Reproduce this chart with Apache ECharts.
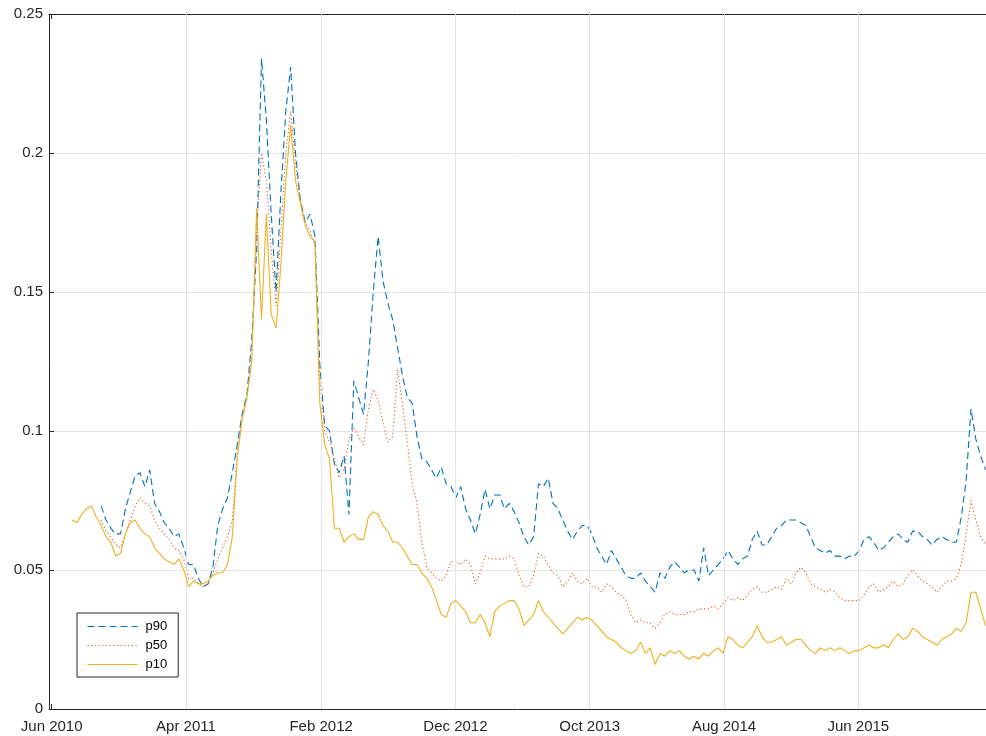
<!DOCTYPE html>
<html>
<head>
<meta charset="utf-8">
<script src="https://cdn.jsdelivr.net/npm/echarts@6/dist/echarts.min.js"></script>
<style>
html,body{margin:0;padding:0;background:#fff;}
#chart{width:986px;height:736px;}
</style>
</head>
<body>
<div id="chart"></div>
<script>
// ---- data (sampled every 11 days starting 2010-07-17) ----
const START_DATE = '2010-07-17';
const STEP_DAYS = 11;

const p90 = [
null,null,null,null,null,null,0.073,0.068,0.065,0.063,
0.063,0.072,0.078,0.084,0.085,0.080,0.086,0.074,0.071,0.067,
0.065,0.062,0.063,0.058,0.052,0.052,0.047,0.044,0.045,0.051,
0.066,0.072,0.076,0.085,0.095,0.106,0.113,0.133,0.165,0.234,
0.212,0.178,0.150,0.186,0.215,0.231,0.200,0.183,0.175,0.178,
0.170,0.124,0.102,0.100,0.088,0.085,0.091,0.070,0.118,0.112,
0.106,0.125,0.150,0.170,0.154,0.146,0.140,0.130,0.120,0.112,
0.110,0.098,0.090,0.089,0.086,0.083,0.087,0.081,0.080,0.076,
0.080,0.072,0.068,0.063,0.070,0.079,0.072,0.077,0.077,0.072,
0.074,0.071,0.067,0.062,0.059,0.062,0.081,0.080,0.083,0.074,
0.072,0.068,0.064,0.061,0.064,0.066,0.066,0.063,0.058,0.055,
0.052,0.057,0.054,0.051,0.048,0.047,0.047,0.049,0.046,0.044,
0.042,0.049,0.047,0.051,0.053,0.051,0.049,0.050,0.050,0.046,
0.058,0.048,0.050,0.052,0.054,0.057,0.054,0.052,0.054,0.055,
0.061,0.064,0.059,0.059,0.062,0.065,0.066,0.068,0.068,0.068,
0.067,0.066,0.062,0.058,0.057,0.056,0.057,0.055,0.055,0.054,
0.055,0.055,0.057,0.061,0.062,0.060,0.057,0.058,0.060,0.062,
0.063,0.061,0.060,0.064,0.064,0.062,0.061,0.059,0.061,0.062,
0.061,0.060,0.060,0.069,0.082,0.108,0.097,0.091,0.086
];

const p50 = [
null,null,null,null,null,null,0.068,0.064,0.062,0.059,
0.058,0.063,0.068,0.073,0.076,0.074,0.073,0.068,0.065,0.063,
0.061,0.058,0.057,0.054,0.047,0.047,0.045,0.044,0.045,0.049,
0.054,0.058,0.062,0.068,0.092,0.105,0.112,0.128,0.172,0.200,
0.190,0.165,0.145,0.172,0.200,0.215,0.196,0.183,0.175,0.172,
0.167,0.118,0.100,0.096,0.090,0.083,0.086,0.097,0.101,0.098,
0.095,0.108,0.115,0.111,0.103,0.096,0.098,0.122,0.110,0.096,
0.081,0.074,0.060,0.051,0.049,0.047,0.046,0.048,0.053,0.053,
0.052,0.054,0.052,0.045,0.049,0.055,0.054,0.054,0.054,0.054,
0.055,0.054,0.048,0.044,0.044,0.048,0.056,0.055,0.052,0.049,
0.048,0.044,0.046,0.049,0.046,0.045,0.047,0.044,0.044,0.042,
0.045,0.044,0.042,0.041,0.039,0.034,0.031,0.032,0.031,0.031,
0.029,0.031,0.034,0.035,0.034,0.034,0.034,0.035,0.035,0.036,
0.036,0.036,0.037,0.036,0.038,0.040,0.039,0.040,0.039,0.041,
0.043,0.044,0.042,0.042,0.043,0.044,0.043,0.047,0.045,0.049,
0.051,0.049,0.045,0.044,0.043,0.042,0.043,0.042,0.040,0.039,
0.039,0.039,0.039,0.041,0.044,0.045,0.042,0.043,0.044,0.046,
0.044,0.045,0.048,0.050,0.048,0.046,0.045,0.044,0.042,0.044,
0.046,0.046,0.047,0.052,0.063,0.075,0.068,0.062,0.059
];

const p10 = [
0.068,0.067,0.070,0.072,0.073,0.069,0.066,0.062,0.060,0.055,
0.056,0.063,0.067,0.068,0.065,0.063,0.062,0.058,0.056,0.054,
0.053,0.052,0.054,0.050,0.044,0.046,0.045,0.045,0.046,0.048,
0.049,0.049,0.052,0.062,0.090,0.104,0.112,0.125,0.180,0.140,
0.178,0.142,0.137,0.160,0.190,0.210,0.190,0.182,0.174,0.170,
0.168,0.110,0.095,0.090,0.065,0.065,0.060,0.062,0.063,0.061,
0.061,0.069,0.071,0.070,0.066,0.064,0.060,0.060,0.058,0.055,
0.052,0.052,0.049,0.047,0.044,0.039,0.034,0.033,0.038,0.039,
0.037,0.035,0.031,0.031,0.034,0.031,0.026,0.035,0.037,0.038,
0.039,0.039,0.036,0.030,0.032,0.034,0.039,0.035,0.033,0.031,
0.029,0.027,0.029,0.031,0.033,0.032,0.033,0.032,0.030,0.028,
0.026,0.025,0.024,0.022,0.021,0.020,0.021,0.024,0.020,0.022,
0.016,0.020,0.019,0.021,0.020,0.021,0.019,0.018,0.019,0.018,
0.020,0.019,0.021,0.022,0.020,0.026,0.025,0.023,0.022,0.024,
0.026,0.030,0.026,0.024,0.024,0.025,0.026,0.023,0.024,0.025,
0.025,0.023,0.021,0.020,0.022,0.021,0.022,0.021,0.022,0.021,
0.020,0.021,0.021,0.022,0.023,0.022,0.022,0.023,0.022,0.025,
0.027,0.025,0.026,0.029,0.028,0.026,0.025,0.024,0.023,0.025,
0.026,0.027,0.029,0.028,0.031,0.042,0.042,0.036,0.030
];

const tickDates = ['2010-06-01','2011-04-01','2012-02-01','2012-12-01','2013-10-01','2014-08-01','2015-06-01'];
const tickLabels = ['Jun 2010','Apr 2011','Feb 2012','Dec 2012','Oct 2013','Aug 2014','Jun 2015'];
const X_MIN = '2010-05-26';
const X_MAX = '2016-03-16';

// ---- build ----
const DAY = 86400000;
const toMs = s => Date.UTC(+s.slice(0,4), +s.slice(5,7) - 1, +s.slice(8,10));
const t0 = toMs(START_DATE);
const dates = p10.map((_, i) => t0 + i * STEP_DAYS * DAY);
const tickVals = tickDates.map(toMs);
const pair = arr => dates.map((d, i) => [d, arr[i]]);

const FONT = '"Liberation Sans", Arial, Helvetica, sans-serif';
const AXIS_COLOR = '#262626';
const GRID_COLOR = '#e4e4e4';

function labelFor(v) {
  for (let i = 0; i < tickVals.length; i++) {
    if (Math.abs(tickVals[i] - v) < DAY) return tickLabels[i];
  }
  return '';
}

const xBase = {
  type: 'value',
  min: toMs(X_MIN),
  max: toMs(X_MAX),
  splitLine: {show: false}
};

const chart = echarts.init(document.getElementById('chart'), null, {renderer: 'canvas'});
chart.setOption({
  backgroundColor: '#ffffff',
  animation: false,
  grid: {left: 49, right: -2, top: 14, bottom: 27, show: false},
  legend: {
    orient: 'vertical',
    left: 77, top: 613,
    data: ['p90', 'p50', 'p10'],
    itemWidth: 50, itemHeight: 14, itemGap: 6,
    padding: [7, 11, 6, 10],
    borderColor: AXIS_COLOR, borderWidth: 1,
    backgroundColor: '#fff',
    itemStyle: {opacity: 0},
    lineStyle: {width: 1},
    textStyle: {fontFamily: FONT, fontSize: 13, color: '#000', padding: [0, 0, 0, 3]}
  },
  xAxis: [Object.assign({}, xBase, {
    position: 'bottom',
    axisLine: {show: true, onZero: false, lineStyle: {color: AXIS_COLOR, width: 1}},
    axisTick: {show: true, inside: true, length: 5, customValues: tickVals, lineStyle: {color: AXIS_COLOR}},
    axisLabel: {show: true, customValues: tickVals, formatter: v => labelFor(v), margin: 10,
      fontFamily: FONT, fontSize: 15, color: AXIS_COLOR, showMinLabel: true, showMaxLabel: true}
  }), Object.assign({}, xBase, {
    position: 'top',
    axisLine: {show: true, onZero: false, lineStyle: {color: AXIS_COLOR, width: 1}},
    axisTick: {show: true, inside: true, length: 5, customValues: tickVals, lineStyle: {color: AXIS_COLOR}},
    axisLabel: {show: false}
  })],
  yAxis: {
    type: 'value', min: 0, max: 0.25, interval: 0.05,
    axisLine: {show: true, onZero: false, lineStyle: {color: AXIS_COLOR, width: 1}},
    axisTick: {show: true, inside: true, length: 5, lineStyle: {color: AXIS_COLOR}},
    axisLabel: {margin: 6, fontFamily: FONT, fontSize: 15, color: AXIS_COLOR, padding: [5, 0, 0, 0]},
    splitLine: {show: true, lineStyle: {color: GRID_COLOR, width: 1}}
  },
  series: [
    {
      name: 'xgrid', type: 'line', data: [], z: 1, silent: true,
      markLine: {
        silent: true, symbol: 'none', label: {show: false},
        lineStyle: {color: GRID_COLOR, type: 'solid', width: 1},
        data: tickVals.slice(1).map(v => ({xAxis: v}))
      }
    },
    {
      name: 'p90', type: 'line', data: pair(p90), showSymbol: false, symbol: 'none',
      color: '#0072BD', z: 3,
      lineStyle: {color: '#0072BD', width: 1.1, type: [7, 4]}
    },
    {
      name: 'p50', type: 'line', data: pair(p50), showSymbol: false, symbol: 'none',
      color: '#D95319', z: 4,
      lineStyle: {color: '#D95319', width: 1.1, type: [1.1, 2.6]}
    },
    {
      name: 'p10', type: 'line', data: pair(p10), showSymbol: false, symbol: 'none',
      color: '#EDB120', z: 5,
      lineStyle: {color: '#EDB120', width: 1.1, type: 'solid'}
    }
  ]
});
</script>
</body>
</html>
